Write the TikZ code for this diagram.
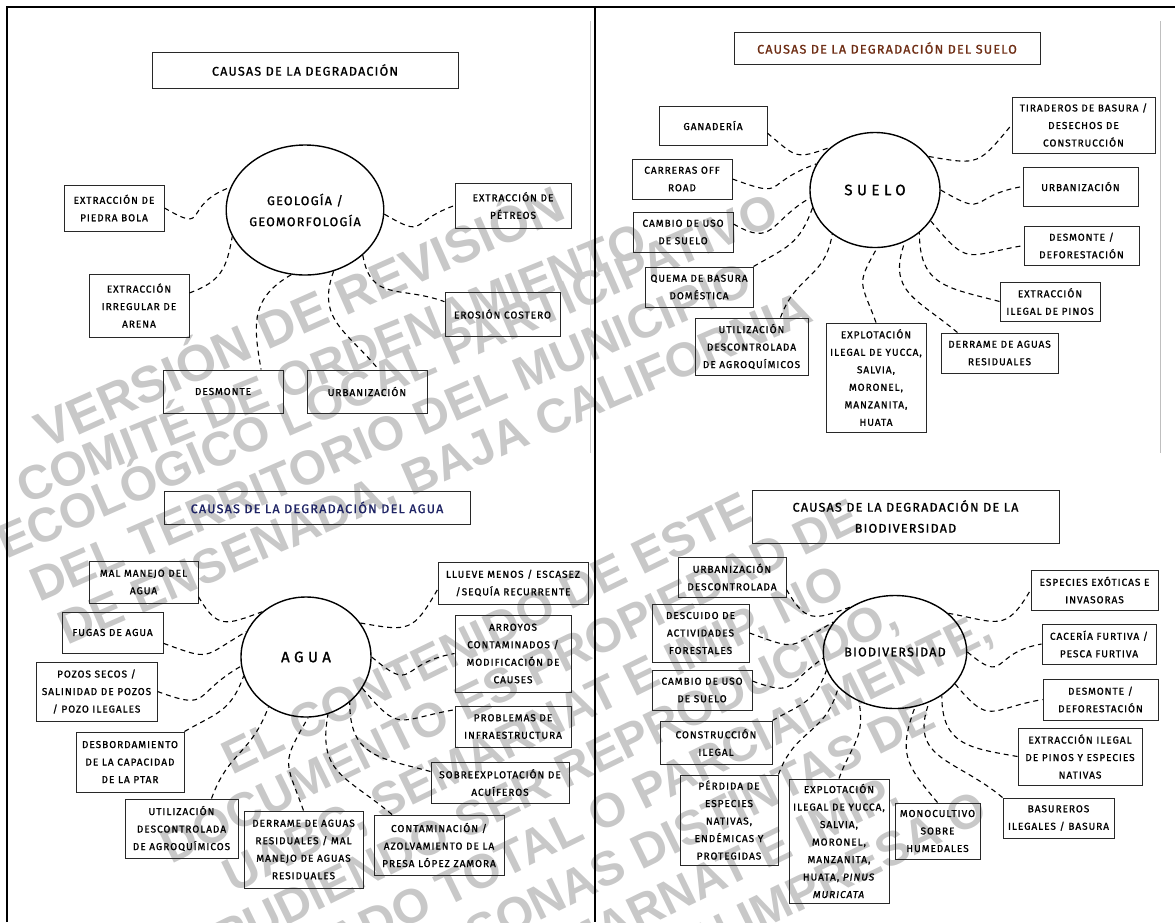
\documentclass[tikz,border=0pt]{standalone}
\usepackage{fontspec}
\newfontfamily\handfont[LetterSpace=10,FakeBold=1.2]{Fira Sans}
\newfontfamily\wideface[LetterSpace=30,FakeBold=1.2]{Fira Sans}
\newfontfamily\wmfont{Liberation Sans}
\usetikzlibrary{shapes.geometric}
\definecolor{soiltitle}{RGB}{110,45,20}
\definecolor{watertitle}{RGB}{30,35,100}
\definecolor{wmgray}{RGB}{200,200,200}
\definecolor{boxline}{RGB}{40,40,40}

\begin{document}
\begin{tikzpicture}[x=1pt,y=1pt,
    cause/.style={draw=boxline,line width=1pt,align=center,inner sep=1pt,
                  font=\handfont\fontsize{10}{17.5}\selectfont},
    sz/.style 2 args={minimum width=#1pt,minimum height=#2pt},
    heading/.style={cause,font=\handfont\fontsize{12.5}{21}\selectfont},
    hub/.style={ellipse,draw,line width=1.4pt,inner sep=0pt,align=center},
    link/.style={line width=1.1pt,dash pattern=on 5pt off 4pt},
    wm/.style={text=wmgray,inner sep=0pt,
               font=\wmfont\bfseries\fontsize{48}{53}\selectfont},
  ]
  \useasboundingbox (0,0) rectangle (1175,-922);

  % watermark
  \begin{scope}
    \clip (0,0) rectangle (1175,-922);
    \node[wm,anchor=base west,rotate=24,font=\wmfont\bfseries\fontsize{51}{53}\selectfont]
      (wm1) at (45,-450) {VERSIÓN DE REVISIÓN};
    \node[wm,anchor=base west,rotate=22] (wm2) at (25,-505) {COMITÉ DE ORDENAMIENTO};
    \node[wm,anchor=base west,rotate=23.5] (wm3) at (6,-560) {ECOLÓGICO LOCAL PARTICIPATIVO};
    \node[wm,anchor=base west,rotate=23.5] (wm4) at (39,-603) {DEL TERRITORIO DEL MUNICIPIO};
    \node[wm,anchor=base west,rotate=23.5] (wm5) at (67,-646) {DE ENSENADA, BAJA CALIFORNIA};
    \node[wm,align=center,rotate=26] (wmbot) at (568,-800) {EL CONTENIDO DE ESTE\\
      DOCUMENTO ES PROPIEDAD DE\\UABC, SEMARNAT E IMIP, NO\\PUDIENDO SER REPRODUCIDO,\\
      PUBLICADO TOTAL O PARCIALMENTE,\\POR PERSONAS DISTINTAS DE\\
      UABC, SEMARNAT E IMIP.\\SIN AUTORIZACIÓN IMPRESA O};
  \end{scope}

  % frame
  \draw[line width=1.4pt] (7,-922) -- (7,-7) -- (1175,-7);
  \draw[line width=1.4pt] (595,-7) -- (595,-922);
  \draw[black!20,line width=1pt] (590,-21) -- (590,-453);
  \draw[black!25,line width=1pt] (1160,-21) -- (1160,-453);

  % ---- geologia
  \node[heading,sz={306}{36}] (t1) at (305,-70) {CAUSAS DE LA DEGRADACIÓN};
  \node[hub,sz={130}{130},font=\handfont\fontsize{12.5}{21}\selectfont] (geo) at (305,-210)
    {GEOLOGÍA /\\GEOMORFOLOGÍA};
  \node[cause,sz={100}{46}] (pb) at (114,-208) {EXTRACCIÓN DE\\PIEDRA BOLA};
  \node[cause,sz={100}{63}] (ar) at (139,-305.5) {EXTRACCIÓN\\IRREGULAR DE\\ARENA};
  \node[cause,sz={116}{45}] (pe) at (513,-205.5) {EXTRACCIÓN DE\\PÉTREOS};
  \node[cause,sz={115}{44}] (er) at (502.5,-314) {EROSIÓN COSTERO};
  \node[cause,sz={120}{43}] (ds) at (223,-391.5) {DESMONTE};
  \node[cause,sz={120}{43}] (ub) at (367,-391.5) {URBANIZACIÓN};

  \draw[link] (pb.east) to[out=-30,in=200,looseness=2] (geo.163);
  \draw[link] (ar.14) to[out=20,in=260,looseness=1.2] (geo.200);
  \draw[link] (geo.-3) to[out=-30,in=200,looseness=1.8] (pe.west);
  \draw[link] (geo.-38) to[out=-80,in=160,looseness=1.3] (er.168);
  \draw[link] (geo.-102) to[out=-150,in=100,looseness=1.2] (ds.30);
  \draw[link] (geo.-65) to[out=-110,in=130,looseness=1.2] (ub.62);

  % ---- suelo
  \node[heading,sz={306}{32},text=soiltitle] (t2) at (887,-48)
    {CAUSAS DE LA DEGRADACIÓN DEL SUELO};
  \node[hub,sz={130}{115},font=\wideface\fontsize{15}{18}\selectfont] (su) at (875,-190) {SUELO};
  \node[cause,sz={108}{39}] (gn) at (713,-125.5) {GANADERÍA};
  \node[cause,sz={100}{40}] (cr) at (682,-179) {CARRERAS OFF\\ROAD};
  \node[cause,sz={100}{40}] (cu) at (683,-232) {CAMBIO DE USO\\DE SUELO};
  \node[cause,sz={108}{40}] (qb) at (699,-287) {QUEMA DE BASURA\\DOMÉSTICA};
  \node[cause,sz={113}{57}] (ua) at (751.5,-346.5) {UTILIZACIÓN\\DESCONTROLADA\\DE AGROQUÍMICOS};
  \node[cause,sz={100}{109}] (ey) at (876,-377.5)
    {EXPLOTACIÓN\\ILEGAL DE YUCCA,\\SALVIA,\\MORONEL,\\MANZANITA,\\HUATA};
  \node[cause,sz={117}{40}] (dr) at (999.5,-353) {DERRAME DE AGUAS\\RESIDUALES};
  \node[cause,sz={100}{39}] (ep) at (1050,-301.5) {EXTRACCIÓN\\ILEGAL DE PINOS};
  \node[cause,sz={115}{39}] (dd) at (1081.5,-245.5) {DESMONTE /\\DEFORESTACIÓN};
  \node[cause,sz={115}{39}] (uq) at (1080.5,-186.5) {URBANIZACIÓN};
  \node[cause,sz={143}{56}] (td) at (1083.5,-125) {TIRADEROS DE BASURA /\\DESECHOS DE\\CONSTRUCCIÓN};

  \draw[link] (gn.-8) to[out=-40,in=200,looseness=1.5] (su.136);
  \draw[link] (cr.east) to[out=-20,in=200,looseness=1.8] (su.156);
  \draw[link] (cu.9) to[out=-30,in=210,looseness=1.5] (su.187);
  \draw[link] (qb.north east) to[out=30,in=250,looseness=1.2] (su.196);
  \draw[link] (ua.45) to[out=70,in=260,looseness=1.2] (su.226);
  \draw[link] (ey.north) to[out=110,in=240,looseness=1.5] (su.-88);
  \draw[link] (dr.154) to[out=140,in=250,looseness=1.3] (su.-60);
  \draw[link] (ep.west) to[out=165,in=-90,looseness=1.3] (su.-44);
  \draw[link] (su.-29) to[out=-50,in=190,looseness=1.6] (dd.west);
  \draw[link] (su.0) to[out=-30,in=190,looseness=1.8] (uq.west);
  \draw[link] (su.32) to[out=-10,in=230,looseness=1.5] (td.west);

  % ---- agua
  \node[heading,sz={306}{33},text=watertitle] (t3) at (317,-507.5)
    {CAUSAS DE LA DEGRADACIÓN DEL AGUA};
  \node[hub,sz={130}{120},font=\wideface\fontsize{15}{18}\selectfont] (ag) at (306,-657) {AGUA};
  \node[cause,sz={109}{42}] (mm) at (143.5,-582) {MAL MANEJO DEL\\AGUA};
  \node[cause,sz={101}{41}] (fu) at (112.5,-632.5) {FUGAS DE AGUA};
  \node[cause,sz={121}{59}] (pz) at (96.5,-691.5) {POZOS SECOS /\\SALINIDAD DE POZOS\\/ POZO ILEGALES};
  \node[cause,sz={108}{60}] (db) at (130,-762) {DESBORDAMIENTO\\DE LA CAPACIDAD\\DE LA PTAR};
  \node[cause,sz={113}{59}] (ut) at (181.5,-828.5) {UTILIZACIÓN\\DESCONTROLADA\\DE AGROQUÍMICOS};
  \node[cause,sz={119}{77}] (dm) at (303.5,-849.5)
    {DERRAME DE AGUAS\\RESIDUALES / MAL\\MANEJO DE AGUAS\\RESIDUALES};
  \node[cause,sz={130}{60}] (cz) at (439,-845)
    {CONTAMINACIÓN /\\AZOLVAMIENTO DE LA\\PRESA LÓPEZ ZAMORA};
  \node[cause,sz={138}{41}] (so) at (500,-782.5) {SOBREEXPLOTACIÓN DE\\ACUÍFEROS};
  \node[cause,sz={116}{41}] (pr) at (513,-726.5) {PROBLEMAS DE\\INFRAESTRUCTURA};
  \node[cause,sz={116}{77}] (ay) at (513,-653.5)
    {ARROYOS\\CONTAMINADOS /\\MODIFICACIÓN DE\\CAUSES};
  \node[cause,sz={150}{42}] (ll) at (513,-583) {LLUEVE MENOS / ESCASEZ\\/SEQUÍA RECURRENTE};

  \draw[link] (mm.-15) to[out=-60,in=200,looseness=1.5] (ag.134);
  \draw[link] (fu.-12) to[out=-20,in=210,looseness=1.6] (ag.157);
  \draw[link] (pz.east) to[out=-20,in=210,looseness=1.7] (ag.188);
  \draw[link] (db.north east) to[out=30,in=250,looseness=1.2] (ag.197);
  \draw[link] (ut.45) to[out=70,in=250,looseness=1.2] (ag.233);
  \draw[link] (dm.north) to[out=110,in=240,looseness=1.5] (ag.-88);
  \draw[link] (cz.147) to[out=140,in=260,looseness=1.3] (ag.-69);
  \draw[link] (so.171) to[out=165,in=-90,looseness=1.3] (ag.-46);
  \draw[link] (ag.-29) to[out=-50,in=190,looseness=1.6] (pr.164);
  \draw[link] (ag.0) to[out=-40,in=190,looseness=1.8] (ay.west);
  \draw[link] (ag.32) to[out=-10,in=240,looseness=1.5] (ll.185);

  % ---- biodiversidad
  \node[heading,sz={307}{53}] (t4) at (905.5,-516.5)
    {CAUSAS DE LA DEGRADACIÓN DE LA\\BIODIVERSIDAD};
  \node[hub,sz={130}{113},font=\handfont\fontsize{12.5}{18}\selectfont] (bi) at (895,-652)
    {BIODIVERSIDAD};
  \node[cause,sz={108}{40}] (bu) at (732,-577) {URBANIZACIÓN\\DESCONTROLADA};
  \node[cause,sz={97}{58}] (dc) at (700.5,-633) {DESCUIDO DE\\ACTIVIDADES\\FORESTALES};
  \node[cause,sz={100}{40}] (cb) at (702,-690) {CAMBIO DE USO\\DE SUELO};
  \node[cause,sz={112}{43}] (ci) at (716,-742.5) {CONSTRUCCIÓN\\ILEGAL};
  \node[cause,sz={98}{90}] (pd) at (729,-820)
    {PÉRDIDA DE\\ESPECIES\\NATIVAS,\\ENDÉMICAS Y\\PROTEGIDAS};
  \node[cause,sz={100}{124}] (ex) at (839,-841)
    {EXPLOTACIÓN\\ILEGAL DE YUCCA,\\SALVIA,\\MORONEL,\\MANZANITA,\\
     HUATA, \textit{PINUS}\\\textit{MURICATA}};
  \node[cause,sz={85}{56}] (mo) at (937.5,-831) {MONOCULTIVO\\SOBRE\\HUMEDALES};
  \node[cause,sz={111}{40}] (ba) at (1058.5,-818) {BASUREROS\\ILEGALES / BASURA};
  \node[cause,sz={124}{57}] (ei) at (1080,-756.5)
    {EXTRACCIÓN ILEGAL\\DE PINOS Y ESPECIES\\NATIVAS};
  \node[cause,sz={115}{41}] (dq) at (1100.5,-699.5) {DESMONTE /\\DEFORESTACIÓN};
  \node[cause,sz={114}{40}] (cf) at (1099,-644) {CACERÍA FURTIVA /\\PESCA FURTIVA};
  \node[cause,sz={127}{40}] (ee) at (1094.5,-590) {ESPECIES EXÓTICAS E\\INVASORAS};

  \draw[link] (bu.-13) to[out=-60,in=200,looseness=1.5] (bi.135);
  \draw[link] (dc.east) to[out=-20,in=210,looseness=1.6] (bi.154);
  \draw[link] (cb.10) to[out=-20,in=215,looseness=1.6] (bi.185);
  \draw[link] (ci.north east) to[out=30,in=250,looseness=1.2] (bi.195);
  \draw[link] (pd.north east) to[out=70,in=255,looseness=1.2] (bi.212);
  \draw[link] (ex.north) to[out=70,in=280,looseness=1.2] (bi.234);
  \draw[link] (mo.north) to[out=130,in=250,looseness=1.3] (bi.-70);
  \draw[link] (ba.north west) to[out=140,in=250,looseness=1.3] (bi.-56);
  \draw[link] (ei.west) to[out=170,in=-90,looseness=1.3] (bi.-43);
  \draw[link] (bi.-28) to[out=-50,in=190,looseness=1.6] (dq.west);
  \draw[link] (bi.0) to[out=-40,in=190,looseness=1.8] (cf.west);
  \draw[link] (bi.36) to[out=-10,in=240,looseness=1.5] (ee.west);
\end{tikzpicture}
\end{document}
